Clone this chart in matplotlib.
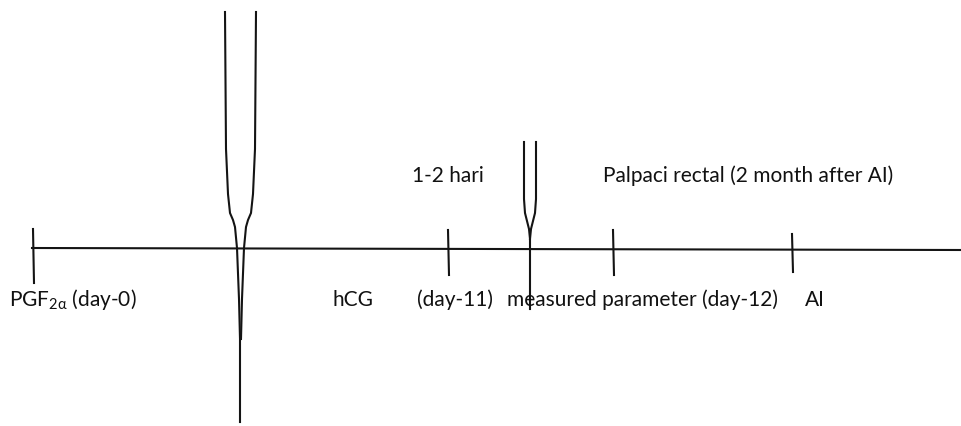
import matplotlib.pyplot as plt

plt.rcParams['font.family'] = ['Lato', 'DejaVu Sans']
plt.rcParams['mathtext.fontset'] = 'custom'
plt.rcParams['mathtext.rm'] = 'Lato'
plt.rcParams['mathtext.it'] = 'Lato'

# ----------------------------
# Timeline data (pixel space of the original sketch)
# ----------------------------
tick_x = [33, 448, 613, 792]
tick_top = [230, 231, 231, 235]
tick_bottom = [284, 276, 276, 273]

bottom_labels = [r"PGF$_{2\alpha}$ (day-0)", "hCG", "(day-11)",
                 "measured parameter (day-12)", "AI"]
bottom_label_x = [9, 332, 417, 507, 805]

top_labels = ["1-2 hari", "Palpaci rectal (2 month after AI)"]
top_label_x = [412, 603]

# big "injection" symbol near day-0, small one at day-12
big_left_x = [225, 226, 228, 230, 233, 235, 237, 239, 240, 240]
big_left_y = [13, 150, 195, 214, 221, 228, 249, 300, 340, 423]
small_left_x = [524, 524, 525, 527, 529, 530, 530]
small_left_y = [143, 200, 214, 222, 230, 240, 310]

# ----------------------------
# Draw
# ----------------------------
fig = plt.figure(figsize=(9.61, 4.27), dpi=100)
ax = fig.add_axes([0, 0, 1, 1])
ax.set_xlim(0, 961)
ax.set_ylim(427, 0)
ax.axis("off")

lc = "#141414"
lw = 1.5

# main axis line
ax.plot([32, 961], [249, 251], color=lc, lw=lw)

# ticks
for x, t, b in zip(tick_x, tick_top, tick_bottom):
    ax.plot([x, x + 1], [t, b], color=lc, lw=lw)

# symbols (mirror the left branch)
big_c = 240.5
ax.plot(big_left_x, big_left_y, color=lc, lw=lw)
ax.plot([2 * big_c - x for x in big_left_x[:-1]], big_left_y[:-1], color=lc, lw=lw)
small_c = 530
ax.plot(small_left_x, small_left_y, color=lc, lw=lw)
ax.plot([2 * small_c - x for x in small_left_x[:-1]], small_left_y[:-1], color=lc, lw=lw)

for txt, x in zip(bottom_labels, bottom_label_x):
    ax.text(x, 306, txt, fontsize=15, color="#111111", ha="left", va="baseline")

for txt, x in zip(top_labels, top_label_x):
    ax.text(x, 182, txt, fontsize=15, color="#111111", ha="left", va="baseline")

plt.savefig("out.png", dpi=100)
